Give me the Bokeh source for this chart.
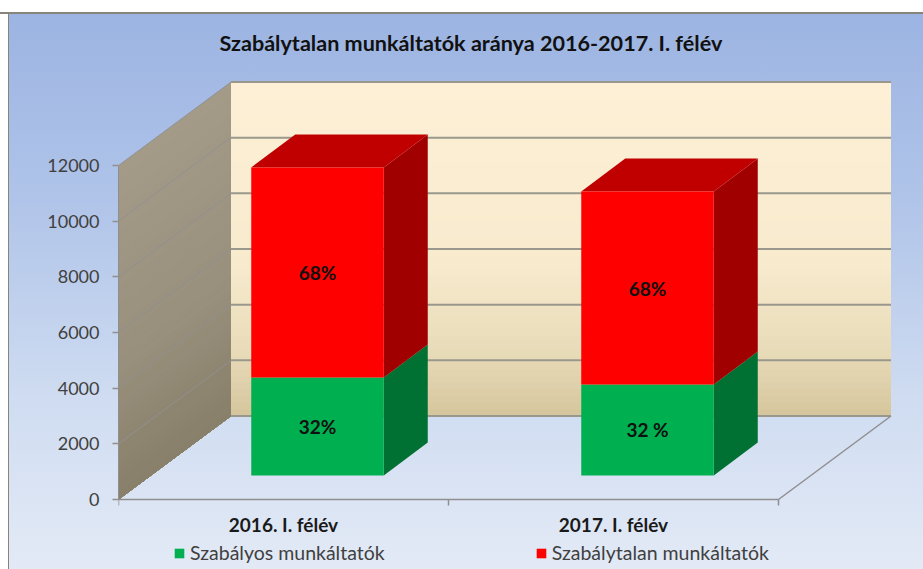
from bokeh.plotting import figure
from bokeh.models import Range1d, FixedTicker, Legend, LegendItem
from bokeh.core.properties import value
from bokeh.embed import file_html
from bokeh.resources import INLINE
import numpy as np

# --- data ---
categories = ["2016. I. félév", "2017. I. félév"]
regular = [3520, 3270]
irregular = [7550, 6930]
regular_labels = ["32%", "32 %"]
irregular_labels = ["68%", "68%"]
series_names = ["Szabályos munkáltatók", "Szabálytalan munkáltatók"]
y_ticks = [0, 2000, 4000, 6000, 8000, 10000, 12000]
title_text = "Szabálytalan munkáltatók aránya 2016-2017. I. félév"

# --- scale (pixels per data unit) ---
PX_X = 330.0
PX_Y = 334.0 / 12000
FONT = "Lato"
W, H = 923, 569
L, B, T = 118, 70, 60
x_end = (W - L) / PX_X
y_start = -B / PX_Y
y_end = (H - B - T) / PX_Y

# 3D projection offsets
wall_dx, wall_dy = 112.5 / PX_X, 83.5 / PX_Y
bar_off_x, bar_off_y = 34 / PX_X, 24 / PX_Y
side_dx, side_dy = 44 / PX_X, 33 / PX_Y
half_w = 66.25 / PX_X
y_top = 12000


def lerp(stops, t):
    for (t0, c0), (t1, c1) in zip(stops, stops[1:]):
        if t <= t1:
            f = (t - t0) / (t1 - t0)
            rgb = [round(a + (b - a) * f) for a, b in zip(c0, c1)]
            return "#%02x%02x%02x" % tuple(rgb)
    return "#%02x%02x%02x" % tuple(stops[-1][1])


p = figure(width=W, height=H, output_backend="svg", toolbar_location=None,
           x_range=Range1d(0, x_end), y_range=Range1d(y_start, y_end),
           min_border_left=L, min_border_right=0, min_border_top=T, min_border_bottom=0,
           background_fill_alpha=0, border_fill_alpha=0, outline_line_alpha=0)
p.styles = {
    "background": "linear-gradient(#fff 0 12px, #85857b 12px 14px, transparent 14px),"
                  "linear-gradient(90deg, #fff 0 8px, #85857b 8px 9.5px, transparent 9.5px),"
                  "linear-gradient(#9cb4e2 14px, #b0c4e9 35%, #cfdcf1 70%, #e3eaf6 100%)"
}
p.grid.visible = False

# back wall gradient
wall_stops = [(0, (253, 240, 214)), (0.55, (247, 234, 205)), (0.8, (232, 219, 184)), (1, (212, 196, 155))]
N = 50
for i in range(N):
    f = i / N
    v = wall_dy + y_top * (1 - f)
    p.quad(left=wall_dx, right=2 + wall_dx, bottom=wall_dy, top=v,
           fill_color=lerp(wall_stops, f), line_alpha=0)

# side wall gradient
side_stops = [(0, (164, 154, 136)), (0.6, (152, 143, 124)), (1, (136, 127, 106))]
for i in range(N):
    f = i / N
    v = y_top * (1 - f)
    p.patch([0, wall_dx, wall_dx, 0], [v, v + wall_dy, wall_dy, 0],
            fill_color=lerp(side_stops, f), line_alpha=0)

# gridlines on both walls
for v in y_ticks:
    wall_color = "#9a988c"
    if v not in (0, ):
        p.line([0, wall_dx], [v, v + wall_dy], line_color="#8e9094", line_width=1, line_alpha=0.9)
    p.line([wall_dx, 2 + wall_dx], [v + wall_dy, v + wall_dy], line_color=wall_color, line_width=2)

# floor edge
p.line([2, 2 + wall_dx], [0, wall_dy], line_color="#8f8f8f", line_width=1.5)

# bars
xc = np.array([0.5, 1.5]) + bar_off_x
low = np.array(regular, dtype=float)
total = low + np.array(irregular, dtype=float)
base = np.full(2, bar_off_y)
left, right = xc - half_w, xc + half_w


def side(b, t):
    return ([[r, r + side_dx, r + side_dx, r] for r in right],
            [[bb, bb + side_dy, tt + side_dy, tt] for bb, tt in zip(b, t)])


xs, ys = side(base, base + low)
p.patches(xs, ys, fill_color="#007033", line_alpha=0)
green = p.quad(left=left, right=right, bottom=base, top=base + low, fill_color="#00b050", line_alpha=0)
xs, ys = side(base + low, base + total)
p.patches(xs, ys, fill_color="#a00000", line_alpha=0)
tops_x = [[l, l + side_dx, r + side_dx, r] for l, r in zip(left, right)]
tops_y = [[t, t + side_dy, t + side_dy, t] for t in base + total]
p.patches(tops_x, tops_y, fill_color="#c00000", line_alpha=0)
red = p.quad(left=left, right=right, bottom=base + low, top=base + total, fill_color="#ff0000", line_alpha=0)

# value labels
p.text(x=xc, y=base + low / 2, text=regular_labels, text_align="center", text_baseline="middle",
       text_font=value(FONT), text_font_style="bold", text_font_size="19px", text_color="#111111")
p.text(x=xc, y=base + low + np.array(irregular) / 2, text=irregular_labels, text_align="center",
       text_baseline="middle", text_font=value(FONT), text_font_style="bold", text_font_size="19px",
       text_color="#111111")

# axes
ax = p.xaxis[0]
ax.fixed_location = 0
ax.ticker = FixedTicker(ticks=[0.5, 1.5], minor_ticks=[0, 1, 2])
ax.major_label_overrides = {0.5: categories[0], 1.5: categories[1]}
ax.bounds = (0, 2)
ax.axis_line_color = "#8f8f8f"
ax.axis_line_width = 1.5
ax.major_tick_line_alpha = 0
ax.major_tick_in = 0
ax.major_tick_out = 0
ax.minor_tick_line_color = "#8f8f8f"
ax.minor_tick_line_width = 1.5
ax.minor_tick_in = 0
ax.minor_tick_out = 6
ax.major_label_standoff = 7
ax.major_label_text_font = FONT
ax.major_label_text_font_style = "bold"
ax.major_label_text_font_size = "19px"
ax.major_label_text_color = "#1a1a1a"

ay = p.yaxis[0]
ay.ticker = FixedTicker(ticks=y_ticks)
ay.bounds = (0, 12000)
ay.axis_line_color = "#8f8f8f"
ay.axis_line_width = 1
ay.major_tick_line_color = "#8f8f8f"
ay.major_tick_line_width = 1.5
ay.major_tick_in = 0
ay.major_tick_out = 6
ay.minor_tick_line_alpha = 0
ay.major_label_standoff = 13
ay.major_label_text_font = FONT
ay.major_label_text_font_size = "18px"
ay.major_label_text_color = "#404040"

# title
p.title.text = title_text
p.title.align = "left"
p.title.offset = 101
p.title.standoff = 10
p.title.text_font = FONT
p.title.text_font_style = "bold"
p.title.text_font_size = "21.6px"
p.title.text_color = "#111111"

# legend
legend = Legend(items=[LegendItem(label=series_names[0], renderers=[green]),
                       LegendItem(label=series_names[1], renderers=[red])],
                orientation="horizontal", location=(55, 5), margin=0, padding=0, spacing=150,
                glyph_width=12, glyph_height=12, label_standoff=5, border_line_alpha=0,
                background_fill_alpha=0, label_text_font=FONT, label_text_font_size="19.5px",
                label_text_color="#404040")
p.add_layout(legend, "center")

open("out.html", "w").write(file_html(p, INLINE))
